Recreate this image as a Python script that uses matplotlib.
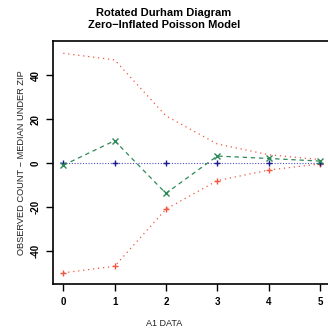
import matplotlib
matplotlib.use("Agg")
import matplotlib.pyplot as plt

x = [0, 1, 2, 3, 4, 5]
upper = [50, 47, 21.5, 8.7, 3.8, 1.6]
lower = [-50, -47, -21, -8, -3.2, -0.4]
observed = [-1, 10.2, -13.8, 3.2, 2.1, 0.9]
median = [0, 0, 0, 0, 0, 0]
xticks = [0, 1, 2, 3, 4, 5]
yticks = [-40, -20, 0, 20, 40]

plt.rcParams['font.family'] = ['Liberation Sans', 'DejaVu Sans']
fig = plt.figure(figsize=(3.28, 3.28), dpi=100)
ax = fig.add_axes([0.1616, 0.134, 0.845, 0.741])

red = '#F2553F'
green = '#2E8B57'
blue = '#1A1A8C'

ax.plot(x, upper, linestyle=(0, (1, 3)), color=red, lw=0.9)
ax.plot(x, lower, linestyle=(0, (1, 3)), color=red, lw=0.9, marker='+', ms=5, mew=1.0)
ax.plot(x, median, linestyle=(0, (1, 1.5)), color='#5050C0', lw=0.8)
ax.plot(x, median, linestyle='none', color=blue, marker='+', ms=5, mew=1.0)
ax.plot(x, observed, linestyle=(0, (3.5, 3)), color=green, lw=0.9, marker='x', ms=4, mew=1.0)

ax.set_xlim(-0.2, 5.2)
ax.set_ylim(-55.1, 55.6)
ax.set_xticks(xticks)
ax.set_yticks(yticks)
ax.set_xticklabels([str(v) for v in xticks], fontweight='bold', fontsize=7)
ax.set_yticklabels([str(v) for v in yticks], fontweight='bold', fontsize=7, rotation=90, va='center')
ax.tick_params(axis='both', direction='out', length=5, width=1, pad=4, color='black')
for s in ax.spines.values():
    s.set_linewidth(1.2)

fig.text(0.5, 1 - 323 / 328, 'A1 DATA', ha='center', va='center', fontsize=6.5, color='#222222')
fig.text(22 / 328, 1 - 163 / 328, 'OBSERVED COUNT \u2212 MEDIAN UNDER ZIP', ha='center', va='center',
         rotation=90, fontsize=6.7, color='#222222')
fig.text(0.5, 1 - 12.5 / 328, 'Rotated Durham Diagram', ha='center', va='center', fontsize=8, fontweight='bold')
fig.text(0.5, 1 - 25 / 328, 'Zero\u2212Inflated Poisson Model', ha='center', va='center', fontsize=8, fontweight='bold')

fig.savefig('out.png', dpi=100)
